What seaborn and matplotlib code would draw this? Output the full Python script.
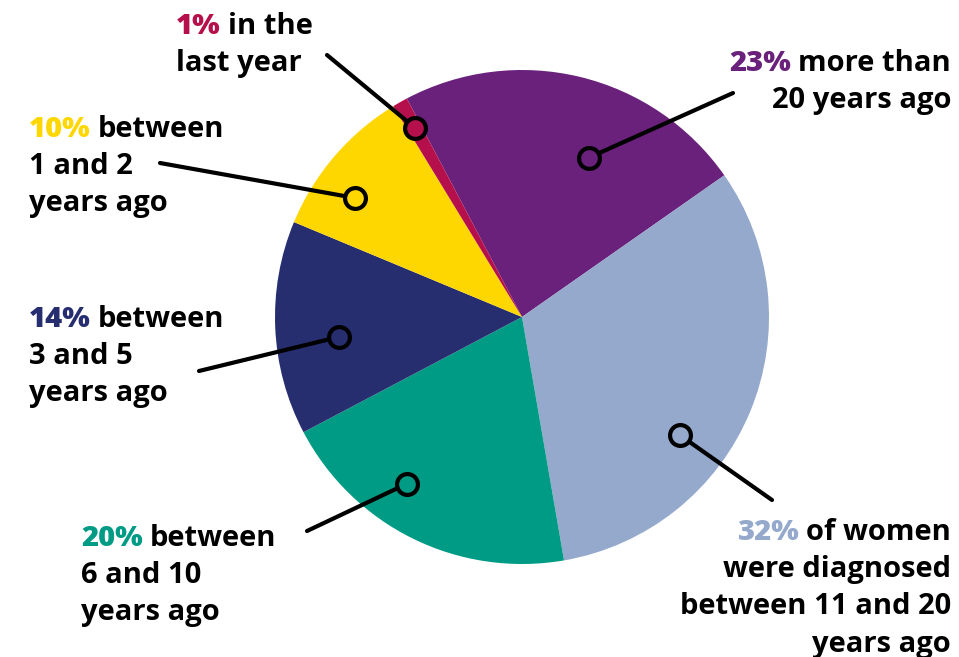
import numpy as np
import matplotlib
matplotlib.use("Agg")
import matplotlib.pyplot as plt
import seaborn as sns

# time since diagnosis, clockwise from the top
pct = [23, 32, 20, 14, 10, 1]
pct_labels = ["23%", "32%", "20%", "14%", "10%", "1%"]
label_lines = [
    ["more than", "20 years ago"],
    ["of women", "were diagnosed", "between 11 and 20", "years ago"],
    ["between", "6 and 10", "years ago"],
    ["between", "3 and 5", "years ago"],
    ["between", "1 and 2", "years ago"],
    ["in the", "last year"],
]
slice_colors = ["#6a217c", "#94a9cc", "#009b84", "#262e70", "#ffd700", "#b5104c"]

sns.set_theme(style="white")
plt.rcParams['font.family'] = ['Open Sans', 'DejaVu Sans']
palette = sns.color_palette(slice_colors)

W, H = 959, 657
fig = plt.figure(figsize=(W / 100, H / 100), dpi=100)
ax = fig.add_axes([0, 0, 1, 1])

# pie geometry in pixel units (y up)
cx, cy, R = 522, H - 317, 247
start = 117.8  # first boundary, degrees ccw from +x

wedges, _ = ax.pie(pct, colors=palette, startangle=start, counterclock=False,
                   center=(cx, cy), radius=R, frame=True,
                   wedgeprops=dict(linewidth=0, antialiased=True))

# callout layout: anchor (deg clockwise from top, fraction of radius),
# line end (px), text anchor (px, first-line centre), alignment
anchor_ang = [22.8, 126.8, 214.6, 263.8, 305.5, 330.5]
anchor_r = [0.70, 0.80, 0.82, 0.745, 0.83, 0.88]
line_end = [(733, 93), (772, 500), (307, 531), (199, 371), (160, 163), (327, 55)]
text_pos = [(951, 61), (951, 530), (81, 536), (29, 317), (29, 127), (176, 24)]
text_ha = ["right", "right", "left", "left", "left", "left"]
line_h = 37.2
fs = 21

for i in range(len(pct)):
    th = np.deg2rad(anchor_ang[i])
    px = cx + anchor_r[i] * R * np.sin(th)
    py = cy + anchor_r[i] * R * np.cos(th)
    ex, ey = line_end[i][0], H - line_end[i][1]
    ax.plot([px, ex], [py, ey], color="black", lw=3, solid_capstyle="round", zorder=3)
    ax.plot(px, py, marker="o", ms=15, mfc=slice_colors[i], mec="black", mew=3, zorder=4)

    tx, ty = text_pos[i]
    lines = label_lines[i]
    for k, ln in enumerate(lines):
        y = H - (ty + k * line_h) - 10
        if k == 0:
            if text_ha[i] == "left":
                t_pct = ax.text(tx, y, pct_labels[i], ha="left", va="baseline",
                                fontsize=fs, fontweight="heavy", color=slice_colors[i])
                ax.annotate(ln, xy=(1, 0), xycoords=t_pct, xytext=(5, 0),
                            textcoords="offset points", ha="left", va="bottom",
                            fontsize=fs, fontweight="bold", color="black")
            else:
                t_rest = ax.text(tx, y, ln, ha="right", va="baseline",
                                 fontsize=fs, fontweight="bold", color="black")
                ax.annotate(pct_labels[i], xy=(0, 0), xycoords=t_rest, xytext=(-5, 0),
                            textcoords="offset points", ha="right", va="bottom",
                            fontsize=fs, fontweight="heavy", color=slice_colors[i])
        else:
            ax.text(tx, y, ln, ha=text_ha[i], va="baseline",
                    fontsize=fs, fontweight="bold", color="black")

ax.set_xlim(0, W)
ax.set_ylim(0, H)
ax.set_aspect("equal")
ax.axis("off")

fig.savefig("out.png", dpi=100, facecolor="white")
